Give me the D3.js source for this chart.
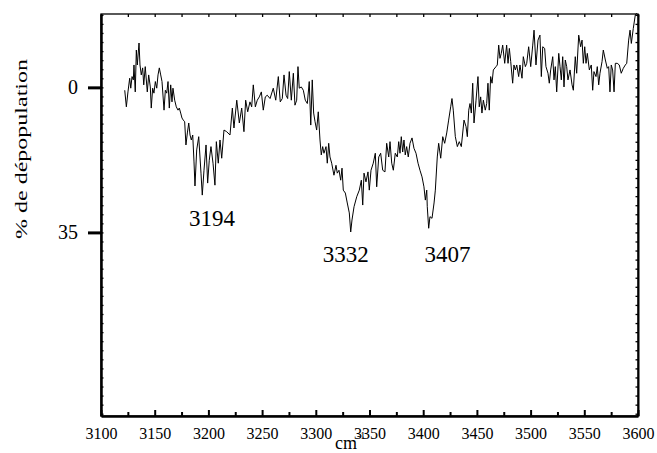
<!DOCTYPE html>
<html><head><meta charset="utf-8">
<script src="https://cdn.jsdelivr.net/npm/d3@7"></script>
<style>body{margin:0;background:#fff} text{font-family:"Liberation Serif","Times New Roman",serif;fill:#000}</style>
</head><body><svg id="c" width="657" height="453"></svg>
<script>
const wavenumbers = [3122.1,3123.6,3125.1,3126.7,3127.7,3128.9,3130.1,3130.7,3131.9,3132.9,3133.8,3135.4,3136.3,3137.5,3138.8,3139.8,3141.2,3143.1,3144.4,3145.9,3146.8,3148.1,3149.3,3150.6,3151.9,3153.1,3154.3,3155.6,3156.8,3158.7,3159.9,3161.2,3162.4,3163.6,3164.9,3166.1,3167.0,3168.6,3170.1,3171.7,3172.9,3174.2,3175.4,3176.6,3177.9,3179.1,3180.4,3181.7,3182.9,3184.1,3185.4,3186.6,3187.5,3189.1,3191.0,3193.1,3194.3,3195.9,3197.8,3199.3,3200.8,3202.4,3204.3,3206.1,3207.4,3209.2,3210.8,3212.4,3214.5,3217.0,3220.1,3222.3,3223.8,3226.4,3228.8,3231.0,3233.1,3234.7,3236.6,3238.7,3240.3,3241.8,3243.7,3245.5,3247.4,3249.3,3251.1,3253.0,3254.8,3257.4,3260.4,3262.7,3265.1,3266.9,3268.8,3270.4,3272.3,3273.8,3275.3,3277.2,3279.1,3280.6,3282.2,3283.4,3284.6,3286.5,3288.4,3290.2,3292.1,3293.9,3295.3,3296.7,3298.0,3299.3,3300.8,3302.3,3303.9,3305.1,3306.4,3307.6,3309.5,3310.7,3312.0,3313.2,3314.8,3316.9,3318.8,3320.0,3321.6,3323.2,3324.4,3325.6,3327.5,3329.3,3331.2,3332.5,3333.7,3335.6,3338.1,3340.5,3342.4,3343.7,3344.9,3346.7,3348.6,3349.8,3351.4,3353.5,3355.4,3356.7,3358.6,3360.4,3362.3,3364.4,3366.0,3367.9,3369.1,3370.7,3372.2,3374.0,3375.9,3377.2,3378.4,3379.6,3380.9,3382.1,3383.3,3384.6,3386.1,3387.7,3389.6,3391.4,3393.3,3395.2,3397.0,3398.9,3400.7,3402.0,3403.3,3403.8,3405.1,3406.3,3408.2,3410.1,3411.3,3413.1,3414.4,3416.3,3418.2,3420.0,3421.9,3423.7,3425.6,3426.8,3428.0,3429.9,3431.8,3433.6,3435.5,3438.0,3439.9,3441.1,3442.4,3443.6,3444.8,3446.1,3447.3,3449.2,3451.0,3452.2,3453.5,3454.7,3456.0,3457.8,3459.1,3460.3,3461.5,3462.8,3464.1,3465.3,3467.8,3469.0,3470.3,3471.5,3472.7,3474.0,3475.9,3477.7,3479.0,3480.2,3481.5,3483.3,3484.5,3485.8,3487.1,3488.9,3490.1,3492.0,3493.2,3495.1,3496.4,3498.2,3500.1,3502.0,3503.2,3505.0,3506.9,3508.7,3510.0,3511.3,3513.1,3514.3,3516.2,3517.4,3518.7,3520.6,3521.8,3523.0,3524.3,3526.2,3527.4,3528.6,3529.9,3531.1,3532.3,3533.6,3534.8,3536.7,3538.6,3539.8,3541.6,3542.9,3544.8,3546.6,3547.9,3549.1,3550.4,3551.6,3552.8,3554.7,3556.5,3557.8,3559.0,3560.9,3562.1,3563.4,3564.6,3566.5,3567.7,3569.6,3571.4,3572.7,3573.9,3575.1,3576.4,3577.7,3578.9,3580.7,3582.6,3584.4,3586.3,3588.2,3589.5,3591.3,3592.6,3593.8,3595.6,3597.5,3598.8];
const depopulation = [0.7,4.7,1.1,-2.2,0.2,-2.6,-1.8,-5.4,1.1,-9.0,-5.4,-10.7,-5.4,-3.0,-4.7,-0.6,-5.0,1.1,-3.0,-0.1,5.0,0.2,1.4,-1.4,0.2,-3.0,-4.7,-3.0,-1.4,5.5,0.7,1.4,-1.4,5.0,-0.6,3.5,0.2,3.1,4.7,5.5,5.0,6.2,7.4,7.9,8.3,13.9,11.0,8.6,11.5,12.7,11.5,18.0,23.8,15.1,11.9,20.7,26.0,20.0,13.9,23.1,17.6,14.3,18.3,23.6,13.1,18.3,12.7,17.1,10.3,10.7,11.5,5.0,9.8,3.1,8.6,5.0,10.7,3.1,5.9,3.5,4.7,-0.6,4.7,3.1,2.3,1.1,5.5,2.3,1.9,2.7,0.2,3.1,-2.6,3.5,2.7,-3.0,1.9,2.7,-3.8,3.1,-3.4,4.3,3.1,-5.0,0.2,-0.1,0.7,3.1,3.9,-1.4,9.1,-1.8,6.2,8.3,10.3,5.9,12.7,16.3,14.3,15.9,14.3,18.3,13.5,16.8,18.3,21.2,18.8,20.7,20.0,22.4,19.5,24.8,25.5,27.9,30.3,34.9,32.0,28.8,26.4,24.8,22.4,28.4,20.7,22.8,20.4,24.8,20.0,18.3,15.9,24.0,16.8,15.9,20.0,20.4,13.5,16.8,13.1,18.3,20.0,15.9,16.8,13.1,15.9,11.9,15.6,12.7,16.3,14.3,16.8,13.5,12.2,14.7,15.9,18.3,20.0,21.6,24.0,27.2,24.8,28.8,34.0,31.2,31.6,27.9,24.8,16.8,13.5,17.1,11.9,13.5,11.0,7.9,4.7,2.7,5.5,11.9,14.3,13.1,14.3,7.9,9.5,11.9,5.5,3.9,6.2,-1.0,8.6,3.1,-2.6,4.7,2.3,6.2,3.1,5.5,3.9,-1.0,5.5,-2.6,-1.0,-4.2,-5.0,-5.4,-10.2,-7.0,-8.2,-10.2,-5.8,-10.2,-5.8,-9.4,-6.2,-1.0,-5.4,-4.2,-5.4,-2.6,-5.4,-2.2,-7.4,-5.0,-5.8,-9.8,-5.0,-10.2,-13.8,-5.4,-11.4,-12.6,-2.6,-9.8,-9.4,-5.0,-3.4,-1.0,-4.2,-7.4,-1.8,-5.0,1.1,-8.2,-5.0,-1.8,-7.4,-0.1,-6.6,-5.0,-1.8,-4.2,-0.6,0.7,-7.4,-3.4,-12.6,-9.8,-11.4,-5.8,-9.8,-5.8,-8.2,-4.2,-5.4,0.7,-3.8,-2.6,-5.0,-0.6,-3.4,-6.2,-9.0,-6.6,-4.6,-5.0,1.1,-5.4,-4.2,1.1,-5.8,-5.8,-5.4,-3.4,-4.6,-5.4,-5.8,-11.4,-13.8,-10.6,-14.2,-17.5,-17.9];
const xTicks = [3100,3150,3200,3250,3300,3350,3400,3450,3500,3550,3600];
const xMinorTicks = [3125,3175,3225,3275,3325,3375,3425,3475,3525,3575];
const yTicks = [0,35];
const peakLabels = ["3194","3332","3407"];
const peakLabelX = [3203.4,3328,3422.6];
const peakLabelY = [33.5,42.2,42.2];
const xTitle = "cm";
const xTitleSup = "-1";
const yTitle = "% de dépopulation";

const L = 101, R = 638, T = 14, B = 416;
const svg = d3.select("#c");
const x = d3.scaleLinear().domain([3100,3600]).range([L,R]);
const y = d3.scaleLinear().domain([-17.7,79.3]).range([T,B]);

// frame
svg.append("rect").attr("x",L).attr("y",T).attr("width",R-L).attr("height",B-T)
  .attr("fill","none").attr("stroke","#000").attr("stroke-width",1.3);

// bottom axis
const bx = svg.append("g").attr("transform",`translate(0,${B})`)
  .call(d3.axisBottom(x).tickValues(xTicks).tickFormat(d3.format("d")).tickSizeInner(-6).tickSizeOuter(0).tickPadding(12));
bx.select(".domain").attr("stroke-width",2.5);
bx.selectAll(".tick line").attr("stroke-width",2);
bx.selectAll("text").attr("font-size",16).style("font-family","Liberation Serif");
svg.append("g").attr("transform",`translate(0,${B})`)
  .call(d3.axisBottom(x).tickValues(xMinorTicks).tickFormat("").tickSizeInner(-4).tickSizeOuter(0))
  .call(g=>g.select(".domain").remove()).selectAll("line").attr("stroke-width",2);
// top axis ticks
svg.append("g").attr("transform",`translate(0,${T})`)
  .call(d3.axisTop(x).tickValues(xTicks.concat(xMinorTicks)).tickFormat("").tickSizeInner(-3).tickSizeOuter(0))
  .call(g=>g.select(".domain").remove()).selectAll("line").attr("stroke-width",1.3);

// left axis
const yMinor = d3.range(-17.5,79.3,35/16);
svg.append("g").attr("transform",`translate(${L},0)`)
  .call(d3.axisLeft(y).tickValues(yMinor).tickFormat("").tickSizeInner(-2.5).tickSizeOuter(0))
  .call(g=>g.select(".domain").attr("stroke-width",2.5)).selectAll("line").attr("stroke-width",1.3);
const ly = svg.append("g").attr("transform",`translate(${L},0)`)
  .call(d3.axisLeft(y).tickValues(yTicks).tickFormat(d3.format("d")).tickSizeInner(13).tickSizeOuter(0).tickPadding(10));
ly.select(".domain").remove();
ly.selectAll("line").attr("stroke-width",3);
ly.selectAll("text").attr("font-size",20).style("font-family","Liberation Serif");
// right axis
svg.append("g").attr("transform",`translate(${R},0)`)
  .call(d3.axisRight(y).tickValues(yMinor).tickFormat("").tickSizeInner(-2.5).tickSizeOuter(0))
  .call(g=>g.select(".domain").attr("stroke-width",2)).selectAll("line").attr("stroke-width",1.3);

// line
const pts = wavenumbers.map((w,i)=>[w,depopulation[i]]);
svg.append("path").datum(pts).attr("fill","none").attr("stroke","#000").attr("stroke-width",1)
  .attr("stroke-linejoin","miter")
  .attr("d",d3.line().x(d=>x(d[0])).y(d=>y(d[1])));

// peak labels
svg.selectAll(".pk").data(peakLabels).enter().append("text")
  .attr("x",(d,i)=>x(peakLabelX[i])).attr("y",(d,i)=>y(peakLabelY[i]))
  .attr("text-anchor","middle").attr("font-size",23).text(d=>d);

// titles
const xt = svg.append("text").attr("x",335).attr("y",449).attr("text-anchor","start").attr("font-size",18);
xt.append("tspan").text(xTitle);
xt.append("tspan").attr("font-size",10).attr("dy",-10).text(xTitleSup);
svg.append("text").attr("transform","translate(27,149) rotate(-90)").attr("text-anchor","middle")
  .attr("font-size",17).attr("textLength",180).attr("lengthAdjust","spacingAndGlyphs").text(yTitle);
</script></body></html>
